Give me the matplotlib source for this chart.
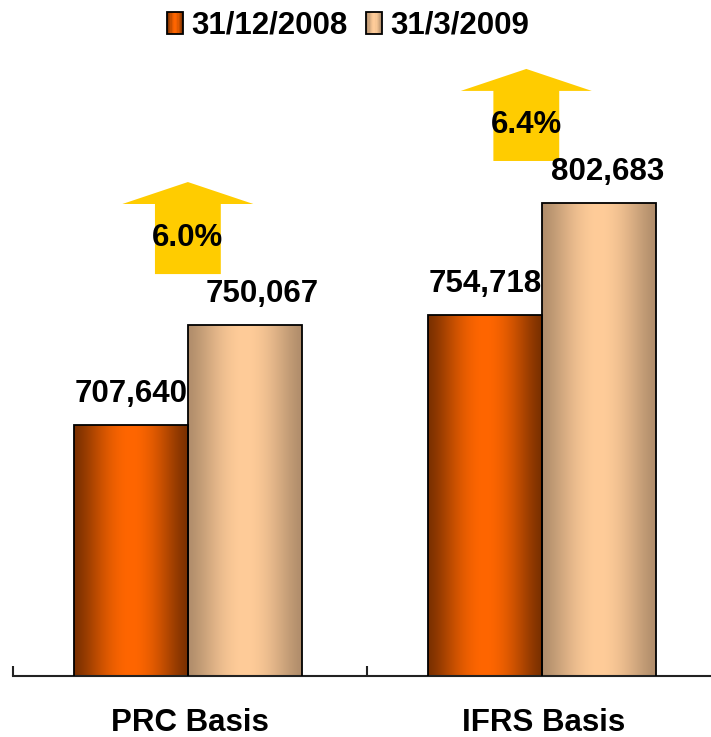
import numpy as np
import matplotlib
matplotlib.use("Agg")
import matplotlib.pyplot as plt
from matplotlib.patches import Rectangle, Polygon
from matplotlib.legend_handler import HandlerBase
from matplotlib.colors import to_rgb
from matplotlib.transforms import blended_transform_factory

categories = ["PRC Basis", "IFRS Basis"]
series_names = ["31/12/2008", "31/3/2009"]
values_2008 = [707640, 754718]
values_2009 = [750067, 802683]

plt.rcParams['font.family'] = ['Liberation Sans', 'DejaVu Sans']
plt.rcParams['font.weight'] = 'bold'
FS = 22.5

# (edge, centre) colours for the horizontal shading of each series
shades = [("#7A3000", "#FF6600"), ("#B08D6B", "#FFCC99")]


def shade_strip(edge, centre, n=200):
    t = np.linspace(0, 1, n)
    k = np.sin(np.pi * t) ** 1.3
    e = np.array(to_rgb(edge))
    c = np.array(to_rgb(centre))
    return e + (c - e) * k[:, None]


class GradientHandler(HandlerBase):
    def __init__(self, edge, centre):
        super().__init__()
        self.edge, self.centre = edge, centre

    def create_artists(self, legend, orig_handle, xdescent, ydescent,
                       width, height, fontsize, trans):
        cols = shade_strip(self.edge, self.centre, 14)
        n = len(cols)
        arts = []
        for i, c in enumerate(cols):
            arts.append(Rectangle((-xdescent + width * i / n, -ydescent), width / n, height,
                                  facecolor=c, edgecolor='none', transform=trans))
        arts.append(Rectangle((-xdescent, -ydescent), width, height, facecolor='none',
                              edgecolor='black', lw=1.3, transform=trans))
        return arts


fig = plt.figure(figsize=(7.11, 7.37), dpi=100)
ax = fig.add_axes([13 / 711, 61 / 737, 708 / 711, 676 / 737])

y0 = 600000
ymax = 889400
x = np.arange(len(categories))
width = 0.322
offsets = [-0.166, 0.156]

for s, vals in enumerate([values_2008, values_2009]):
    edge, centre = shades[s]
    strip = shade_strip(edge, centre)[None, :, :]
    bars = ax.bar(x + offsets[s], vals, width, bottom=0, facecolor='none',
                  edgecolor='black', linewidth=1.3, zorder=3)
    for b in bars:
        bx = b.get_x()
        im = ax.imshow(strip, extent=(bx, bx + width, y0, b.get_height()),
                       aspect='auto', interpolation='bilinear', zorder=2)
        im.set_clip_path(b)

# value labels above bars
label_dx = [[0, 0], [12, 6]]
for s, vals in enumerate([values_2008, values_2009]):
    for i, v in enumerate(vals):
        ax.annotate(f"{v:,}", (x[i] + offsets[s], v), xytext=(label_dx[s][i], 22.3),
                    textcoords='offset points', ha='center', va='center',
                    fontsize=FS, fontweight='bold', zorder=5)

# growth arrows
arrow_dx = [-0.006, -0.05]
arrow_gap = [22000, 17800]
shaft_w, head_w = 0.186, 0.37
arrow_len, head_len = 39400, 9400
for i in range(len(categories)):
    growth = (values_2009[i] / values_2008[i] - 1) * 100
    cx = x[i] + arrow_dx[i]
    yb = values_2009[i] + arrow_gap[i]
    yh = yb + arrow_len - head_len
    yt = yb + arrow_len
    pts = [(cx - shaft_w / 2, yb), (cx + shaft_w / 2, yb), (cx + shaft_w / 2, yh),
           (cx + head_w / 2, yh), (cx, yt), (cx - head_w / 2, yh), (cx - shaft_w / 2, yh)]
    ax.add_patch(Polygon(pts, closed=True, facecolor="#FFCC00", edgecolor='none', zorder=4))
    ax.text(cx, yb + (yh - yb) / 2 + 400, f"{growth:.1f}%", ha='center', va='center',
            fontsize=FS, fontweight='bold', zorder=5)

ax.set_xlim(-0.5, 1.5)
ax.set_ylim(y0, ymax)
for side in ['left', 'right', 'top']:
    ax.spines[side].set_visible(False)
ax.spines['bottom'].set_linewidth(1.5)
ax.spines['bottom'].set_color('#222222')
ax.set_yticks([])
ax.set_xticks([-0.5, 0.5, 1.5])
ax.set_xticklabels([])
ax.tick_params(axis='x', direction='in', length=7.5, width=1.5, color='#222222')

trans = blended_transform_factory(ax.transData, ax.transAxes)
for i, c in enumerate(categories):
    ax.text(x[i], -47 / 676, c, transform=trans, ha='center', va='center',
            fontsize=FS, fontweight='bold', clip_on=False)

handles = [Rectangle((0, 0), 1, 1), Rectangle((0, 0), 1, 1)]
hmap = {handles[0]: GradientHandler(*shades[0]), handles[1]: GradientHandler(*shades[1])}
fig.legend(handles, series_names, handler_map=hmap, loc='center',
           bbox_to_anchor=(0.4895, 1 - 26 / 737), ncol=2, frameon=False,
           prop={'size': FS, 'weight': 'bold'}, handlelength=0.52, handleheight=0.7,
           handletextpad=0.25, columnspacing=0.6, borderpad=0, borderaxespad=0)

fig.savefig("out.png", dpi=100)
